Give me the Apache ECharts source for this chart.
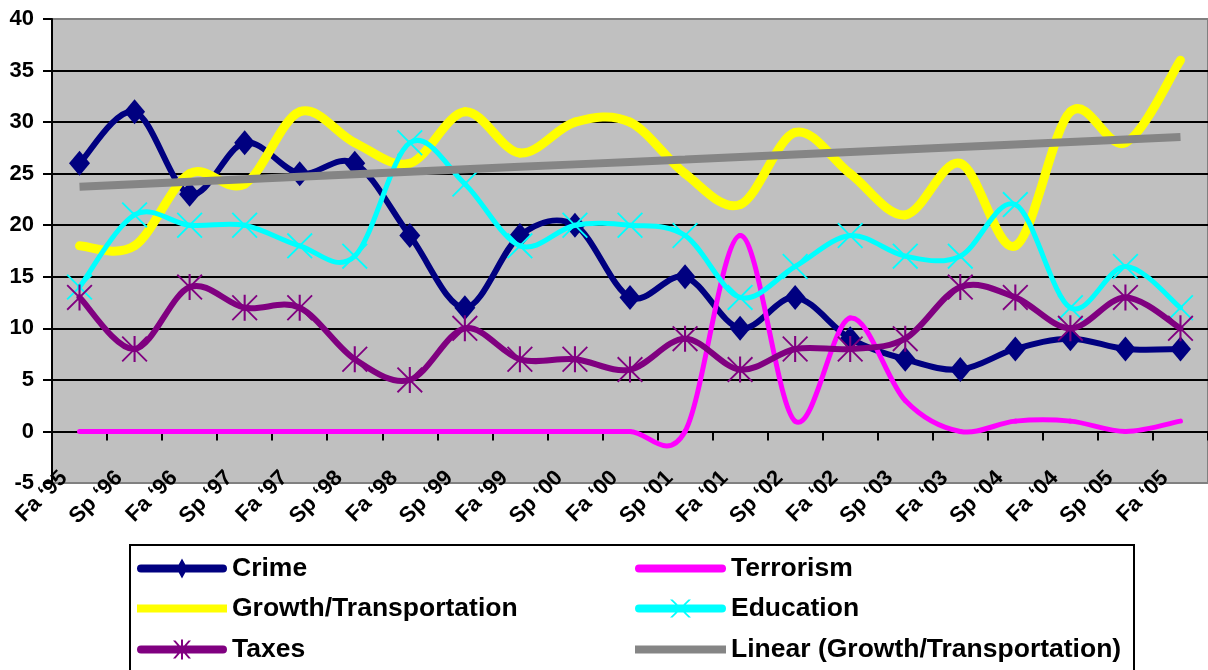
<!DOCTYPE html>
<html>
<head>
<meta charset="utf-8">
<script src="https://cdn.jsdelivr.net/npm/echarts@6/dist/echarts.min.js"></script>
<style>
  html, body { margin: 0; padding: 0; background: #ffffff; }
  #chart { width: 1208px; height: 670px; }
</style>
</head>
<body>
<div id="chart"></div>
<script>
// Survey terms, fall 1995 to fall 2005
const terms = ["Fa \u201895", "Sp \u201896", "Fa \u201896", "Sp \u201897", "Fa \u201897", "Sp \u201898", "Fa \u201898",
  "Sp \u201899", "Fa \u201899", "Sp \u201800", "Fa \u201800", "Sp \u201801", "Fa \u201801", "Sp \u201802",
  "Fa \u201802", "Sp \u201803", "Fa \u201803", "Sp \u201804", "Fa \u201804", "Sp \u201805", "Fa \u201805"];

// Share of respondents naming each issue (%)
const crime     = [26, 31, 23, 28, 25, 26, 19, 12, 19, 20, 13, 15, 10, 13, 9, 7, 6, 8, 9, 8, 8];
const terrorism = [0, 0, 0, 0, 0, 0, 0, 0, 0, 0, 0, 0, 19, 1, 11, 3, 0, 1, 1, 0, 1];
const growth    = [18, 18, 25, 24, 31, 28, 26, 31, 27, 30, 30, 25, 22, 29, 25, 21, 26, 18, 31, 28, 36];
const education = [14, 21, 20, 20, 18, 17, 28, 24, 18, 20, 20, 19, 13, 16, 19, 17, 17, 22, 12, 16, 12];
const taxes     = [13, 8, 14, 12, 12, 7, 5, 10, 7, 7, 6, 9, 6, 8, 8, 9, 14, 13, 10, 13, 10];

// Y axis range and step
const yMin = -5, yMax = 40, yStep = 5;

// Least-squares trend line through a series
function linearTrend(values) {
  const n = values.length;
  let sx = 0, sy = 0, sxy = 0, sxx = 0;
  values.forEach((v, i) => { const x = i + 1; sx += x; sy += v; sxy += x * v; sxx += x * x; });
  const b = (n * sxy - sx * sy) / (n * sxx - sx * sx);
  const a = (sy - b * sx) / n;
  return values.map((_, i) => +(a + b * (i + 1)).toFixed(3));
}
const growthTrend = linearTrend(growth);

const FONT = '"Liberation Sans", Arial, Helvetica, sans-serif';
const C = {
  crime: '#000080', terrorism: '#ff00ff', growth: '#ffff00',
  education: '#00ffff', taxes: '#800080', trend: '#858585'
};

// Marker shapes
const xMark = 'path://M0,5 L5,0 L50,45 L95,0 L100,5 L55,50 L100,95 L95,100 L50,55 L5,100 L0,95 L45,50 Z';
const starMark = 'path://M0,5 L5,0 L50,45 L95,0 L100,5 L55,50 L100,95 L95,100 L50,55 L5,100 L0,95 L45,50 Z M46,0 L54,0 L54,100 L46,100 Z';

// Legend keys (each path fills its whole key box)
const crimeKey = 'path://M4,6 L86,6 A4,4 0 0 1 86,14 L4,14 A4,4 0 0 1 4,6 Z M45,0 L50.5,10 L45,20 L39.5,10 Z';
const taxesKey = 'path://M4,6 L86,6 A4,4 0 0 1 86,14 L4,14 A4,4 0 0 1 4,6 Z M36,1 L38.5,1 L54,19 L51.5,19 Z M51.5,1 L54,1 L38.5,19 L36,19 Z M44,0 L46,0 L46,20 L44,20 Z';
const eduKey = 'path://M4,6 L87,6 A4,4 0 0 1 87,14 L4,14 A4,4 0 0 1 4,6 Z M35,1 L37.5,1 L56,19 L53.5,19 Z M53.5,1 L56,1 L37.5,19 L35,19 Z';
const terrorKey = 'path://M4,0 L87,0 A4,4 0 0 1 87,8 L4,8 A4,4 0 0 1 4,0 Z';

// Smooth curve through the points of a series: one cubic Bezier per segment,
// tangents from the neighbouring points (Catmull-Rom, 1/6 of the chord).
function curveSeries(name, values, color, width, z) {
  const last = values.length - 1;
  const clampIdx = k => Math.max(0, Math.min(last, k));
  return {
    name: name,
    type: 'custom',
    z: z,
    silent: true,
    data: values.map((v, i) => [i, v]),
    encode: { x: 0, y: 1 },
    itemStyle: { color: color },
    renderItem: function (params, api) {
      const i = params.dataIndex;
      if (i >= last) return null;
      const pt = k => api.coord([clampIdx(k), values[clampIdx(k)]]);
      const p0 = pt(i - 1), p1 = pt(i), p2 = pt(i + 1), p3 = pt(i + 2);
      return {
        type: 'bezierCurve',
        shape: {
          x1: p1[0], y1: p1[1], x2: p2[0], y2: p2[1],
          cpx1: p1[0] + (p2[0] - p0[0]) / 6, cpy1: p1[1] + (p2[1] - p0[1]) / 6,
          cpx2: p2[0] - (p3[0] - p1[0]) / 6, cpy2: p2[1] - (p3[1] - p1[1]) / 6
        },
        style: { stroke: color, lineWidth: width, fill: 'none', lineCap: 'round' }
      };
    }
  };
}

// Markers drawn on the data points
function markerSeries(name, values, color, symbol, size, z) {
  return {
    name: name, type: 'scatter', z: z, silent: true,
    data: values, symbol: symbol, symbolSize: size,
    itemStyle: { color: color, opacity: 1 },
    emphasis: { disabled: true }
  };
}

const legendText = { fontFamily: FONT, fontWeight: 'bold', fontSize: 26.5, color: '#000' };
function legendEntry(name, left, top, w, h, icon) {
  return {
    orient: 'vertical', left: left, top: top, padding: 0,
    itemWidth: w, itemHeight: h, selectedMode: false,
    textStyle: legendText,
    data: [{ name: name, icon: icon }]
  };
}

const chart = echarts.init(document.getElementById('chart'), null, { renderer: 'canvas' });

chart.setOption({
  animation: false,
  backgroundColor: '#ffffff',
  grid: {
    left: 52, top: 19, width: 1159, height: 464,
    show: true, backgroundColor: '#c0c0c0',
    borderColor: '#808080', borderWidth: 2
  },
  xAxis: {
    type: 'category',
    data: terms,
    boundaryGap: true,
    axisLine: { onZero: true, lineStyle: { color: '#000', width: 2 } },
    axisTick: { show: true, interval: 0, length: 9, lineStyle: { color: '#000', width: 2 } },
    axisLabel: {
      interval: 0, rotate: 45, margin: 7,
      verticalAlign: 'bottom', lineHeight: 44,
      fontFamily: FONT, fontWeight: 'bold', fontSize: 22, color: '#000'
    },
    splitLine: { show: false }
  },
  yAxis: {
    type: 'value',
    min: yMin, max: yMax, interval: yStep,
    axisLine: { show: true, onZero: false, lineStyle: { color: '#000', width: 2 } },
    axisTick: { show: true, length: 9, lineStyle: { color: '#000', width: 2 } },
    axisLabel: { margin: 18, fontFamily: FONT, fontWeight: 'bold', fontSize: 22, color: '#000' },
    splitLine: { show: true, showMinLine: false, showMaxLine: false, lineStyle: { color: '#000', width: 2 } }
  },
  legend: [
    legendEntry('Crime', 137, 555, 90, 20, crimeKey),
    legendEntry('Growth/Transportation', 137, 595, 90, 8, 'rect'),
    legendEntry('Taxes', 137, 636, 90, 20, taxesKey),
    legendEntry('Terrorism', 635, 555, 91, 8, terrorKey),
    legendEntry('Education', 635, 595, 91, 20, eduKey),
    legendEntry('Linear (Growth/Transportation)', 635, 636, 91, 8, 'rect')
  ],
  graphic: [
    {
      type: 'rect', silent: true, z: 100,
      shape: { x: 130, y: 545, width: 1004, height: 150 },
      style: { fill: 'none', stroke: '#000', lineWidth: 2 }
    }
  ],
  series: [
    curveSeries('Crime', crime, C.crime, 6, 2),
    markerSeries('Crime', crime, C.crime, 'diamond', [21, 25], 3),
    curveSeries('Terrorism', terrorism, C.terrorism, 5, 4),
    curveSeries('Growth/Transportation', growth, C.growth, 9, 5),
    curveSeries('Education', education, C.education, 5, 6),
    markerSeries('Education', education, C.education, xMark, 26, 7),
    curveSeries('Taxes', taxes, C.taxes, 6, 8),
    markerSeries('Taxes', taxes, C.taxes, starMark, 26, 9),
    {
      name: 'Linear (Growth/Transportation)', type: 'line', z: 10, silent: true,
      data: growthTrend, symbol: 'none', smooth: false,
      lineStyle: { color: C.trend, width: 8, cap: 'butt' },
      itemStyle: { color: C.trend },
      emphasis: { disabled: true }
    }
  ]
});
</script>
</body>
</html>
